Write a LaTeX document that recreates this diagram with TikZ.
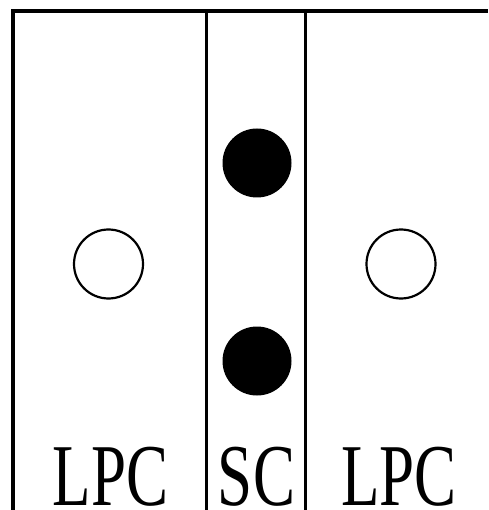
\documentclass[tikz,border=0pt]{standalone}
\usepackage{fontspec}
\usepackage{graphicx}
\setmainfont{Liberation Serif}
\begin{document}
\begin{tikzpicture}[x=1pt,y=-1pt,
  frame/.style={line width=4pt},
  divider/.style={line width=3pt},
  open/.style={circle,draw,line width=2.2pt,minimum size=69pt,inner sep=0pt},
  full/.style={circle,fill=black,minimum size=69pt,inner sep=0pt},
  zone/.style={anchor=base,inner sep=0pt,font=\fontsize{63}{63}\selectfont}]
\useasboundingbox (0,0) rectangle (488,510);
\fill[white] (0,0) rectangle (488,510);
% outer frame (open to the right and bottom)
\draw[frame] (13,510) -- (13,11) -- (488,11);
% dividers between the zones
\draw[divider] (206.5,11) -- (206.5,510);
\draw[divider] (305,11) -- (305,510);
% particles
\node[open] (l) at (108.5,264) {};
\node[open] (r) at (401,264) {};
\node[full] (t) at (257,163) {};
\node[full] (b) at (257,361) {};
% zone labels
\node[zone] (lpc1) at (110.5,505) {\scalebox{1}[1.4]{LPC}};
\node[zone] (sc) at (256.5,505) {\scalebox{1}[1.4]{SC}};
\node[zone] (lpc2) at (399,505) {\scalebox{1}[1.4]{LPC}};
\end{tikzpicture}
\end{document}
